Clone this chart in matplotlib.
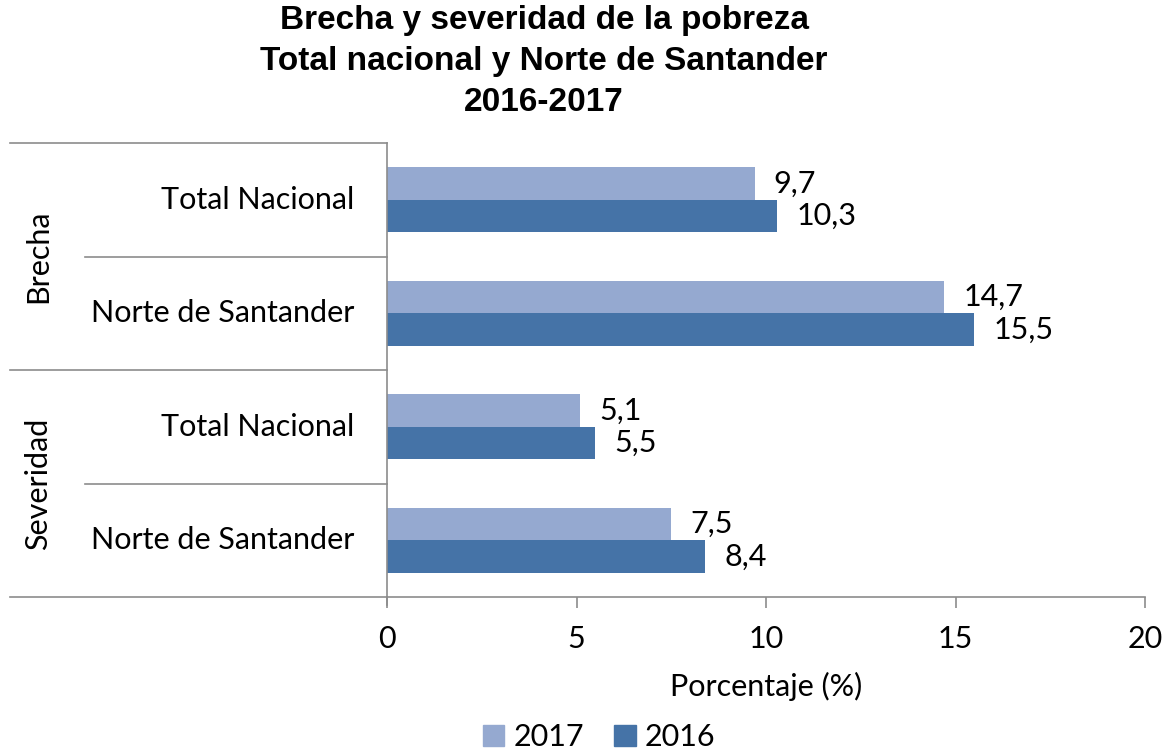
import matplotlib.pyplot as plt
from matplotlib.transforms import blended_transform_factory
from matplotlib.patches import Patch
import numpy as np

categories = ['Total Nacional', 'Norte de Santander', 'Total Nacional', 'Norte de Santander']
groups = ['Brecha', 'Severidad']
v2017 = [9.7, 14.7, 5.1, 7.5]
v2016 = [10.3, 15.5, 5.5, 8.4]
xticks = [0, 5, 10, 15, 20]

c2017 = '#95A9D0'
c2016 = '#4573A7'
gray = '#8C8C8C'
font = 'Lato'
fs = 22

fig = plt.figure(figsize=(11.7, 7.51), dpi=100)
ax = fig.add_axes([387/1170, 1-597/751, (1145-387)/1170, (597-143)/751])

y = np.arange(len(categories))
h = 0.285
ax.barh(y - h/2, v2017, height=h, color=c2017, label='2017')
ax.barh(y + h/2, v2016, height=h, color=c2016, label='2016')

for yi, v in zip(y, v2017):
    ax.text(v + 0.5, yi - h/2, f'{v:.1f}'.replace('.', ','), va='center', ha='left',
            fontsize=fs, family=font)
for yi, v in zip(y, v2016):
    ax.text(v + 0.5, yi + h/2, f'{v:.1f}'.replace('.', ','), va='center', ha='left',
            fontsize=fs, family=font)

ax.set_xlim(0, 20)
ax.set_ylim(3.5, -0.5)
ax.set_xticks(xticks)
ax.set_xticklabels([str(t) for t in xticks], fontsize=fs, family=font)
ax.tick_params(axis='x', direction='out', length=8, width=1.2, color=gray, pad=12)
ax.set_yticks([])
for s in ['top', 'right']:
    ax.spines[s].set_visible(False)
ax.spines['left'].set_color(gray)
ax.spines['bottom'].set_color(gray)
ax.spines['left'].set_linewidth(1.2)
ax.spines['bottom'].set_linewidth(1.2)
ax.spines['left'].set_bounds(3.57, -0.5)

# category separator lines to the left of the axis
tr = blended_transform_factory(ax.transAxes, ax.transData)
for b in [-0.5, 1.5, 3.5]:
    ax.plot([-0.497, 0], [b, b], color=gray, lw=1.2, transform=tr, clip_on=False)
for b in [0.5, 2.5]:
    ax.plot([-0.398, 0], [b, b], color=gray, lw=1.2, transform=tr, clip_on=False)

for yi, lab in zip(y, categories):
    ax.text(-0.043, yi, lab, transform=tr, ha='right', va='center', fontsize=fs, family=font)
for gi, g in enumerate(groups):
    ax.text(-0.46, 2*gi + 0.5, g, transform=tr, ha='center', va='center', rotation=90,
            fontsize=fs, family=font)

ax.set_xlabel('Porcentaje (%)', fontsize=fs, family=font, labelpad=14)

fig.text(0.465, 0.993, 'Brecha y severidad de la pobreza\nTotal nacional y Norte de Santander\n2016-2017',
         ha='center', va='top', fontsize=24, fontweight='bold', family='Liberation Sans',
         linespacing=1.42)

handles = [Patch(color=c2017, label='2017'), Patch(color=c2016, label='2016')]
fig.legend(handles=handles, loc='center', bbox_to_anchor=(0.512, 0.018), ncol=2, frameon=False,
           prop={'family': font, 'size': fs}, handlelength=0.7, handleheight=0.7,
           handletextpad=0.3, columnspacing=1.0)

fig.savefig('out.png', dpi=100)
